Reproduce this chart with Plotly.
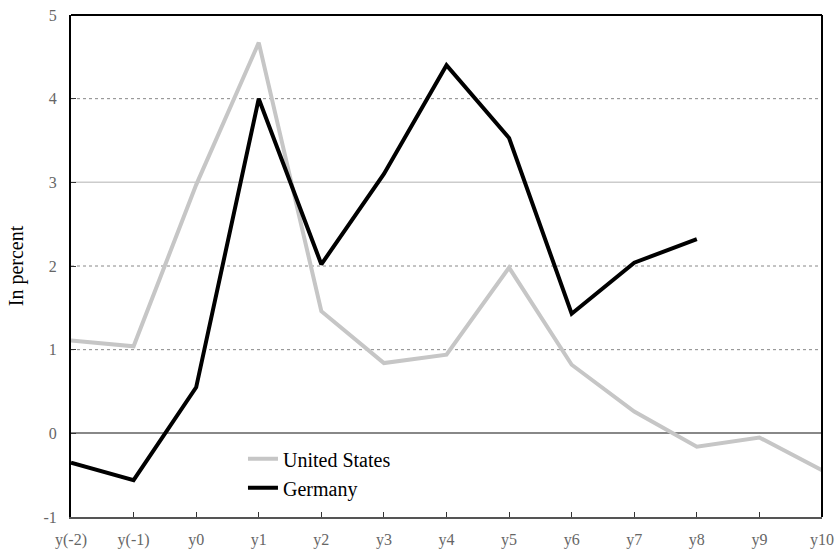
import plotly.graph_objects as go

periods = ["y(-2)", "y(-1)", "y0", "y1", "y2", "y3", "y4", "y5", "y6", "y7", "y8", "y9", "y10"]
united_states = [1.11, 1.04, 2.97, 4.67, 1.46, 0.84, 0.94, 1.98, 0.82, 0.26, -0.16, -0.05, -0.44]
germany = [-0.35, -0.56, 0.55, 4.0, 2.02, 3.1, 4.4, 3.53, 1.43, 2.04, 2.32]
y_ticks = [-1, 0, 1, 2, 3, 4, 5]
y_tick_labels = ["-1", "0", "1", "2", "3", "4", "5"]
dotted_grid = [1, 2, 4]
solid_grid = [3]

idx = list(range(len(periods)))

fig = go.Figure()
fig.add_trace(go.Scatter(x=idx[:len(united_states)], y=united_states, mode="lines",
                         name="United States", line=dict(color="#c6c6c6", width=4)))
fig.add_trace(go.Scatter(x=idx[:len(germany)], y=germany, mode="lines",
                         name="Germany", line=dict(color="#000000", width=4)))

for g in dotted_grid:
    fig.add_hline(y=g, line=dict(color="#888", width=1, dash="dot"), layer="below")
for g in solid_grid:
    fig.add_hline(y=g, line=dict(color="#cccccc", width=1.5), layer="below")

serif = "Liberation Serif, Times New Roman, serif"
fig.update_layout(
    width=837, height=549,
    margin=dict(l=71, r=15, t=15, b=32),
    paper_bgcolor="white", plot_bgcolor="white",
    font=dict(family=serif, color="#000"),
    showlegend=True,
    legend=dict(x=0.229, y=0.155, xanchor="left", yanchor="top",
                bgcolor="rgba(0,0,0,0)", font=dict(size=20, family=serif, color="#000"),
                tracegroupgap=0),
    xaxis=dict(range=[0, len(periods) - 1], tickmode="array", tickvals=idx, ticktext=periods,
               showgrid=False, zeroline=False, ticks="inside", ticklen=5, tickcolor="#333",
               showline=True, linecolor="#555", linewidth=2, mirror=False, automargin=False,
               ticklabelstandoff=7,
               tickfont=dict(size=16, color="#666", family=serif)),
    yaxis=dict(range=[-1, 5], tickmode="array", tickvals=y_ticks, ticktext=y_tick_labels,
               showgrid=False,
               zeroline=True, zerolinecolor="#888", zerolinewidth=2,
               ticks="inside", ticklen=5, tickcolor="#333", ticklabelstandoff=9,
               showline=True, linecolor="#000", linewidth=2, automargin=False,
               tickfont=dict(size=16, color="#666", family=serif),
               title=dict(text="In percent", font=dict(size=20, family=serif, color="#000"),
                          standoff=14)),
)
# top and right borders
fig.add_shape(type="line", xref="paper", yref="paper", x0=0, x1=1, y0=1, y1=1,
              line=dict(color="#000", width=2))
fig.add_shape(type="line", xref="paper", yref="paper", x0=1, x1=1, y0=0, y1=1,
              line=dict(color="#000", width=2))

fig.write_html("out.html", config={"displayModeBar": False},
               post_script="document.body.style.margin='0';")
